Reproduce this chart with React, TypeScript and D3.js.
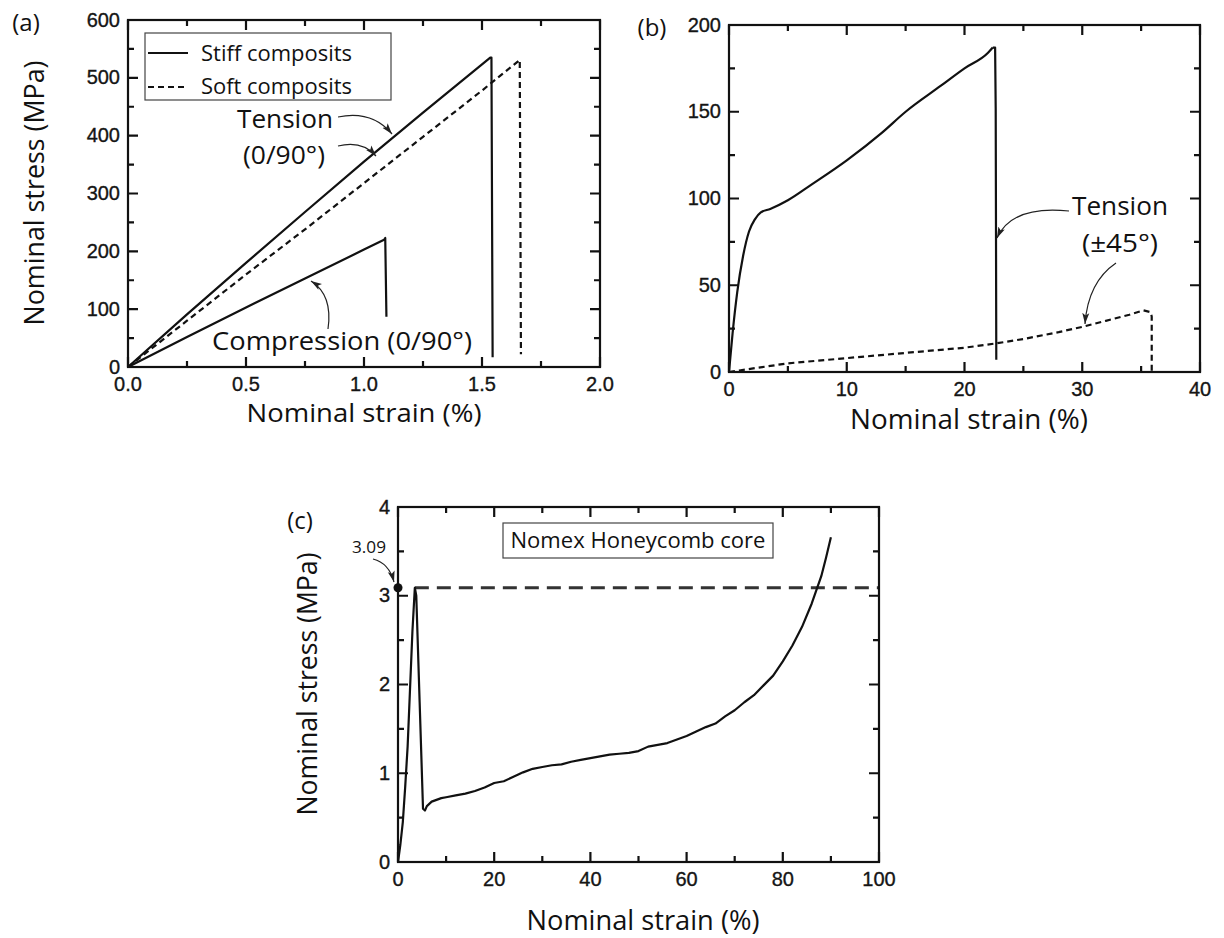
import React from "react";
import * as d3 from "d3";

// ---- panel (a): 0/90 laminates, stress (MPa) vs strain (%)
const aStiffTensionStrain = [0, 0.25, 0.5, 0.75, 1.0, 1.25, 1.535, 1.54, 1.545];
const aStiffTensionStress = [0, 91, 180, 268, 355, 440, 535, 535, 17];
const aSoftTensionStrain = [0, 0.25, 0.5, 0.75, 1.0, 1.25, 1.5, 1.66, 1.665];
const aSoftTensionStress = [0, 80, 160, 238, 318, 398, 478, 531, 22];
const aCompressionStrain = [0, 0.25, 0.5, 0.75, 1.0, 1.085, 1.09, 1.095];
const aCompressionStress = [0, 52, 103, 153, 203, 220, 223, 87];
const aXTickLabels = ["0.0", "0.5", "1.0", "1.5", "2.0"];
const aYTickLabels = ["0", "100", "200", "300", "400", "500", "600"];
const aLegend = ["Stiff composits", "Soft composits"];

// ---- panel (b): +-45 laminates
const bStiffStrain = [0, 0.3, 0.7, 1.2, 1.7, 2.2, 2.7, 3.5, 5, 7, 10, 13, 15, 18, 20, 22, 22.4, 22.6, 22.65, 22.7];
const bStiffStress = [0, 22, 46, 67, 81, 88, 92, 94, 99, 108, 122, 138, 150, 165, 175, 184, 187, 187, 152, 7];
const bSoftStrain = [0, 1, 5, 10, 15, 20, 22.7, 25, 28, 30, 32, 34, 35.2, 35.8, 35.9, 35.9];
const bSoftStress = [0, 1, 5, 8, 11, 14, 16.5, 19, 23, 26, 29.5, 33, 35.5, 34.5, 32, 0];
const bXTickLabels = ["0", "10", "20", "30", "40"];
const bYTickLabels = ["0", "50", "100", "150", "200"];

// ---- panel (c): Nomex honeycomb core in compression
const cStrain = [0, 0.5, 1, 1.5, 2, 2.5, 3, 3.5, 3.8, 4.5, 5.2, 5.6, 6, 7, 8, 9, 10, 12, 14, 16, 18, 20, 22, 24, 26, 28, 30, 32, 34, 36, 38, 40, 42, 44, 46, 48, 50, 52, 54, 56, 58, 60, 62, 64, 66, 68, 70, 72, 74, 76, 78, 80, 82, 84, 86, 88, 89, 90];
const cStress = [0, 0.2, 0.45, 0.85, 1.3, 1.95, 2.6, 3.09, 3.0, 1.8, 0.6, 0.58, 0.63, 0.68, 0.7, 0.72, 0.73, 0.75, 0.77, 0.8, 0.84, 0.89, 0.91, 0.96, 1.01, 1.05, 1.07, 1.09, 1.1, 1.13, 1.15, 1.17, 1.19, 1.21, 1.22, 1.23, 1.25, 1.3, 1.32, 1.34, 1.38, 1.42, 1.47, 1.52, 1.56, 1.64, 1.71, 1.8, 1.88, 1.99, 2.1, 2.26, 2.44, 2.65, 2.91, 3.22, 3.43, 3.66];
const cPeak = [3.5, 3.09];
const cXTickLabels = ["0", "20", "40", "60", "80", "100"];
const cYTickLabels = ["0", "1", "2", "3", "4"];

const LABEL_FONT = "'Open Sans', 'Noto Sans', sans-serif";
const TICK_FONT = "'Liberation Sans', Arial, sans-serif";
const INK = "#111";

type Frame = { left: number; top: number; right: number; bottom: number };
type Scale = d3.ScaleLinear<number, number>;

const zip = (xs: number[], ys: number[]): [number, number][] => xs.map((v, i) => [v, ys[i]]);

// midpoints between major ticks -> minor ticks
const halves = (t: number[]) => t.slice(1).map((v, i) => (v + t[i]) / 2);

function Panel(props: {
  frame: Frame;
  xDomain: [number, number];
  yDomain: [number, number];
  xTickLabels: string[];
  yTickLabels: string[];
  children: (x: Scale, y: Scale) => React.ReactNode;
}) {
  const { frame, xDomain, yDomain, xTickLabels, yTickLabels } = props;
  const x = d3.scaleLinear().domain(xDomain).range([frame.left, frame.right]);
  const y = d3.scaleLinear().domain(yDomain).range([frame.bottom, frame.top]);
  const xMaj = x.ticks(xTickLabels.length - 1);
  const yMaj = y.ticks(yTickLabels.length - 1);

  // all inward ticks (mirrored on top / right) as one path
  const p = d3.path();
  const addX = (v: number, len: number) => {
    p.moveTo(x(v), frame.bottom);
    p.lineTo(x(v), frame.bottom - len);
    p.moveTo(x(v), frame.top);
    p.lineTo(x(v), frame.top + len);
  };
  const addY = (v: number, len: number) => {
    p.moveTo(frame.left, y(v));
    p.lineTo(frame.left + len, y(v));
    p.moveTo(frame.right, y(v));
    p.lineTo(frame.right - len, y(v));
  };
  xMaj.forEach((v) => addX(v, 10));
  halves(xMaj).forEach((v) => addX(v, 6));
  yMaj.forEach((v) => addY(v, 10));
  halves(yMaj).forEach((v) => addY(v, 6));

  return (
    <g>
      {props.children(x, y)}
      <path d={p.toString()} fill="none" stroke={INK} strokeWidth={2.2} />
      <rect
        x={frame.left}
        y={frame.top}
        width={frame.right - frame.left}
        height={frame.bottom - frame.top}
        fill="none"
        stroke={INK}
        strokeWidth={2.2}
      />
      <g fontFamily={TICK_FONT} fontSize={20} fill="#151515" stroke="#151515" strokeWidth={0.35}>
        {xMaj.map((v, i) => (
          <text key={`xl${i}`} x={x(v)} y={frame.bottom + 24} textAnchor="middle">
            {xTickLabels[i]}
          </text>
        ))}
        {yMaj.map((v, i) => (
          <text key={`yl${i}`} x={frame.left - 8} y={y(v) + 6.5} textAnchor="end">
            {yTickLabels[i]}
          </text>
        ))}
      </g>
    </g>
  );
}

function Label(props: { x: number; y: number; len?: number; size?: number; rotate?: boolean; anchor?: string; children: string }) {
  const { x, y, len, size = 27, rotate, anchor = "middle" } = props;
  return (
    <text
      x={x}
      y={y}
      fontFamily={LABEL_FONT}
      fontSize={size}
      fill={INK}
      textAnchor={anchor}
      textLength={len}
      lengthAdjust={len ? "spacingAndGlyphs" : undefined}
      transform={rotate ? `rotate(-90 ${x} ${y})` : undefined}
    >
      {props.children}
    </text>
  );
}

function Arrow(props: { from: [number, number]; ctrl: [number, number]; to: [number, number] }) {
  const { from, ctrl, to } = props;
  return (
    <path
      d={`M${from[0]},${from[1]} Q${ctrl[0]},${ctrl[1]} ${to[0]},${to[1]}`}
      fill="none"
      stroke="#222"
      strokeWidth={1.2}
      markerEnd="url(#arrowhead)"
    />
  );
}

export default function App() {
  const line = (x: Scale, y: Scale) =>
    d3
      .line<[number, number]>()
      .x((d) => x(d[0]))
      .y((d) => y(d[1]));

  return (
    <svg width={1224} height={938} style={{ position: "absolute", left: 0, top: 0, background: "#fff" }}>
      <defs>
        <marker id="arrowhead" markerUnits="userSpaceOnUse" markerWidth={12} markerHeight={8} refX={11} refY={4} orient="auto">
          <path d="M0,0.5 L11,4 L0,7.5 L2.5,4 z" fill="#222" />
        </marker>
      </defs>

      {/* (a) */}
      <Label x={26} y={31} size={24}>(a)</Label>
      <Panel
        frame={{ left: 128, top: 20, right: 600, bottom: 367 }}
        xDomain={[0, 2]}
        yDomain={[0, 600]}
        xTickLabels={aXTickLabels}
        yTickLabels={aYTickLabels}
      >
        {(x, y) => {
          const l = line(x, y);
          return (
            <g fill="none" stroke={INK} strokeWidth={2.2} strokeLinejoin="round">
              <path d={l(zip(aStiffTensionStrain, aStiffTensionStress)) || ""} />
              <path d={l(zip(aSoftTensionStrain, aSoftTensionStress)) || ""} strokeDasharray="6,4" />
              <path d={l(zip(aCompressionStrain, aCompressionStress)) || ""} />
            </g>
          );
        }}
      </Panel>
      <g>
        <rect x={145} y={33} width={246} height={67} fill="#fff" stroke="#444" strokeWidth={1.2} />
        <line x1={148} x2={188} y1={53} y2={53} stroke={INK} strokeWidth={2.2} />
        <line x1={148} x2={188} y1={87} y2={87} stroke={INK} strokeWidth={2.2} strokeDasharray="6,4" />
        <Label x={201} y={61} size={22} len={151} anchor="start">{aLegend[0]}</Label>
        <Label x={201} y={94} size={22} len={151} anchor="start">{aLegend[1]}</Label>
      </g>
      <Label x={285} y={128} size={26} len={96}>Tension</Label>
      <Label x={284} y={164} size={26} len={82}>(0/90°)</Label>
      <Arrow from={[338, 117]} ctrl={[372, 110]} to={[392, 134]} />
      <Arrow from={[338, 146]} ctrl={[362, 140]} to={[376, 156]} />
      <Label x={342} y={350} size={26} len={260}>Compression (0/90°)</Label>
      <Arrow from={[328, 329]} ctrl={[333, 295]} to={[311, 281]} />
      <Label x={44} y={193} size={28} len={265} rotate>Nominal stress (MPa)</Label>
      <Label x={364} y={422} size={25} len={235}>Nominal strain (%)</Label>

      {/* (b) */}
      <Label x={652} y={36} size={24}>(b)</Label>
      <Panel
        frame={{ left: 729, top: 25, right: 1200, bottom: 372 }}
        xDomain={[0, 40]}
        yDomain={[0, 200]}
        xTickLabels={bXTickLabels}
        yTickLabels={bYTickLabels}
      >
        {(x, y) => {
          const l = line(x, y);
          return (
            <g fill="none" stroke={INK} strokeWidth={2.2} strokeLinejoin="round">
              <path d={line(x, y).curve(d3.curveMonotoneX)(zip(bStiffStrain.slice(0, 17), bStiffStress.slice(0, 17))) || ""} />
              <path d={l(zip(bStiffStrain.slice(16), bStiffStress.slice(16))) || ""} />
              <path d={l(zip(bSoftStrain, bSoftStress)) || ""} strokeDasharray="6,4" />
            </g>
          );
        }}
      </Panel>
      <Label x={1120} y={215} size={26} len={96}>Tension</Label>
      <Label x={1120} y={252} size={26} len={76}>(±45°)</Label>
      <Arrow from={[1069, 211]} ctrl={[1012, 205]} to={[997, 238]} />
      <Arrow from={[1116, 263]} ctrl={[1088, 282]} to={[1085, 324]} />
      <Label x={969} y={429} size={27} len={238}>Nominal strain (%)</Label>

      {/* (c) */}
      <Label x={300} y={529} size={24}>(c)</Label>
      <Panel
        frame={{ left: 398, top: 507, right: 879, bottom: 862 }}
        xDomain={[0, 100]}
        yDomain={[0, 4]}
        xTickLabels={cXTickLabels}
        yTickLabels={cYTickLabels}
      >
        {(x, y) => {
          const l = line(x, y);
          return (
            <g>
              <line
                x1={x(cPeak[0])}
                x2={x(100)}
                y1={y(cPeak[1])}
                y2={y(cPeak[1])}
                stroke="#333"
                strokeWidth={3}
                strokeDasharray="14,8"
              />
              <path d={l(zip(cStrain, cStress)) || ""} fill="none" stroke={INK} strokeWidth={2.2} strokeLinejoin="round" />
              <circle cx={x(0)} cy={y(cPeak[1])} r={4.5} fill={INK} />
            </g>
          );
        }}
      </Panel>
      <rect x={503} y={523} width={270} height={35} fill="#fff" stroke="#444" strokeWidth={1.2} />
      <Label x={638} y={548} size={22} len={255}>Nomex Honeycomb core</Label>
      <Label x={386} y={553} size={17} len={34} anchor="end">3.09</Label>
      <Arrow from={[373, 559]} ctrl={[389, 563]} to={[394, 582]} />
      <Label x={317} y={684} size={28} len={263} rotate>Nominal stress (MPa)</Label>
      <Label x={643} y={930} size={28} len={233}>Nominal strain (%)</Label>
    </svg>
  );
}
